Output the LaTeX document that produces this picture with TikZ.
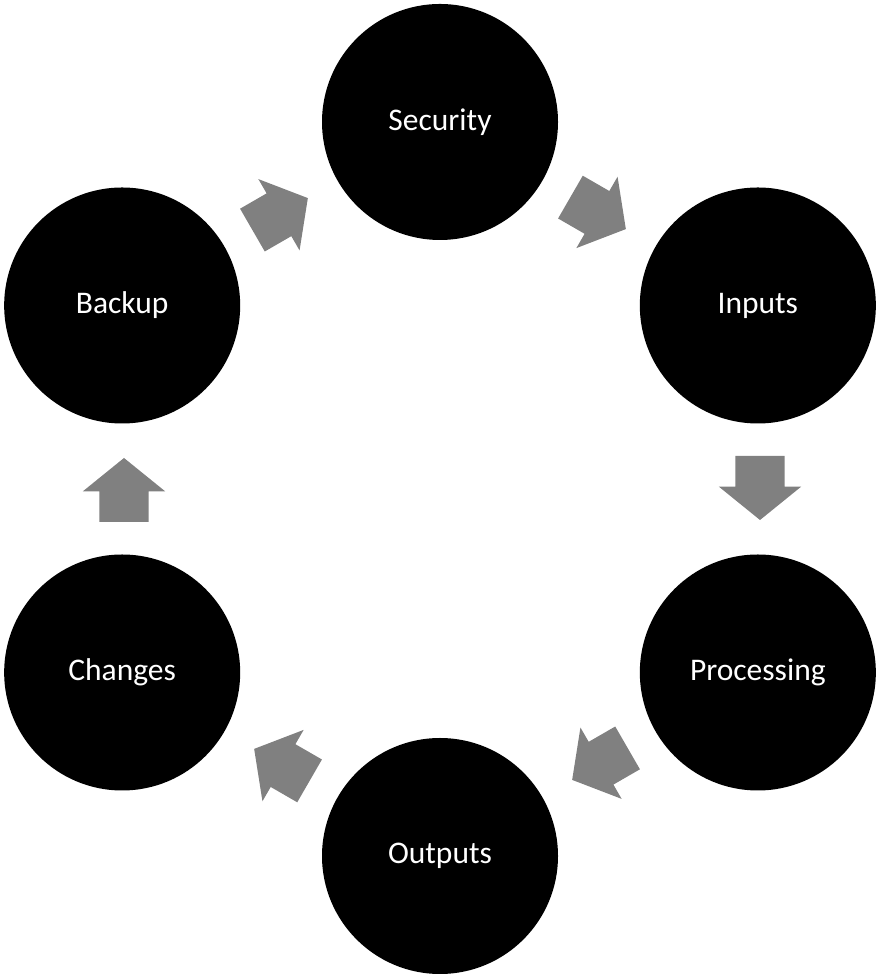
\documentclass[tikz,border=0pt]{standalone}
\usepackage{fontspec}
\setmainfont{Carlito}
\usetikzlibrary{positioning,shapes.arrows}

\begin{document}
\begin{tikzpicture}
        [x=1pt, y=1pt,
        stage/.style={circle, fill=black, minimum size=236pt, inner sep=0pt,
        text=white, font=\fontsize{31.5}{38}\selectfont},
        flow/.style={single arrow, fill=black!50, draw=none, inner xsep=0pt,
        inner ysep=24.5pt, minimum height=64pt,
        single arrow head extend=16.5pt, single arrow tip angle=102,
        rotate=#1, xshift=-11pt}]
        \useasboundingbox (0,0) rectangle (880,976);
        \begin{scope}[shift={(440,487)}]
        % the six stages, clockwise from the top
        \node [stage] (security)   at (90:367)  {Security};
        \node [stage] (inputs)     at (30:367)  {Inputs};
        \node [stage] (processing) at (-30:367) {Processing};
        \node [stage] (outputs)    at (-90:367) {Outputs};
        \node [stage] (changes)    at (-150:367) {Changes};
        \node [stage] (backup)     at (150:367) {Backup};
        % block arrows between them
        \node [flow=-30]  (toinputs)     at (60:318)   {};
        \node [flow=-90]  (toprocessing) at (0:320)    {};
        \node [flow=-150] (tooutputs)    at (-60:318)  {};
        \node [flow=150]  (tochanges)    at (-120:318) {};
        \node [flow=90]   (tobackup)     at (180:316)  {};
        \node [flow=30]   (tosecurity)   at (120:318)  {};
        \end{scope}
\end{tikzpicture}
\end{document}
